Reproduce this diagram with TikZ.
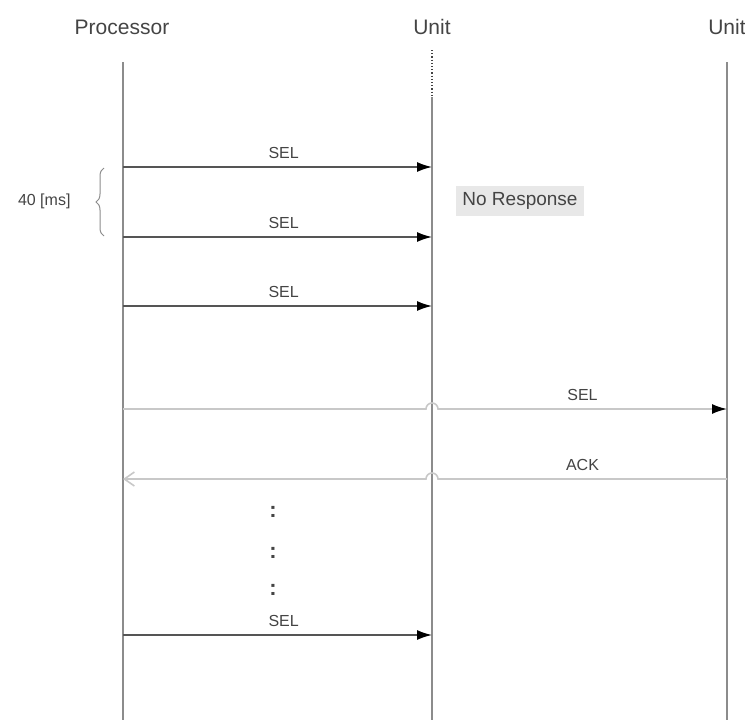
\documentclass[tikz,border=0pt]{standalone}
\usepackage{fontspec}
\setmainfont{Liberation Sans}
\usetikzlibrary{arrows.meta,decorations.pathreplacing}
\definecolor{txt}{HTML}{444444}
\definecolor{life}{HTML}{8C8C8C}
\definecolor{msg}{HTML}{555555}
\definecolor{faint}{HTML}{C8C8C8}
\tikzset{
 head/.style={font=\fontsize{21}{24}\selectfont,text=txt},
 lbl/.style={font=\fontsize{16}{18}\selectfont,text=txt},
 lifeline/.style={draw=life,line width=1.6pt},
 sel/.style={draw=msg,line width=1.5pt,-{Latex[length=15pt,width=10pt,black]}},
 farsel/.style={draw=faint,line width=1.6pt,-{Latex[length=15pt,width=10pt,black]}},
 ack/.style={draw=faint,line width=1.6pt,-{Straight Barb[length=10pt,width=14pt]}},
 vdots/.style={font=\fontsize{22}{24}\bfseries\selectfont,text=txt}
}
\begin{document}
\begin{tikzpicture}[x=1pt,y=-1pt]
 \useasboundingbox (0,0) rectangle (745,720);
 % headers
 \node[head] (proc) at (122,27) {Processor};
 \node[head] (unitA) at (432,27) {Unit};
 \node[head] (unitB) at (727,27) {Unit};
 % lifelines
 \coordinate (pTop) at (123,62);  \coordinate (pBot) at (123,720);
 \coordinate (aDot) at (432,50);  \coordinate (aTop) at (432,97); \coordinate (aBot) at (432,720);
 \coordinate (bTop) at (727,62);  \coordinate (bBot) at (727,720);
 \draw[lifeline] (pTop) -- (pBot);
 \draw[draw=txt,line width=1.2pt,dotted] (aDot) -- (aTop);
 \draw[lifeline] (aTop) -- (aBot);
 \draw[lifeline] (bTop) -- (bBot);
 % repeated selections, no answer
 \foreach \y/\n in {167/1,237/2,306/3,635/4}{
  \coordinate (s\n) at (123,\y);
  \coordinate (t\n) at (432,\y);
  \draw[sel] (s\n) -- node[lbl,above=4pt,pos=0.52] (sl\n) {SEL} (t\n);
 }
 % timing brace
 \coordinate (brTop) at (104,168);
 \coordinate (brBot) at (104,236);
 \draw[draw=life,line width=1pt,decorate,decoration={brace,amplitude=8pt}] (brBot) -- (brTop);
 \node[lbl,anchor=east] (gap) at (74,201) {40 [ms]};
 % no response note
 \node[lbl,fill=black!9,inner sep=6pt,font=\fontsize{19}{21}\selectfont] (none) at (520,201) {No Response};
 % selection of the second unit, over the first lifeline
 \coordinate (s5) at (123,409); \coordinate (h5) at (426,409); \coordinate (t5) at (727,409);
 \draw[farsel] (s5) -- (h5) arc[start angle=180,end angle=360,radius=6] -- node[lbl,above=4pt] (sl5) {SEL} (t5);
 % acknowledgement back
 \coordinate (s6) at (727,479); \coordinate (h6) at (438,479); \coordinate (t6) at (123,479);
 \draw[ack] (s6) -- node[lbl,above=4pt] (al6) {ACK} (h6) arc[start angle=0,end angle=-180,radius=6] -- (t6);
 % omitted repeats
 \foreach \y/\n in {512/1,553/2,590/3} \node[vdots] (dots\n) at (273,\y) {:};
\end{tikzpicture}
\end{document}
